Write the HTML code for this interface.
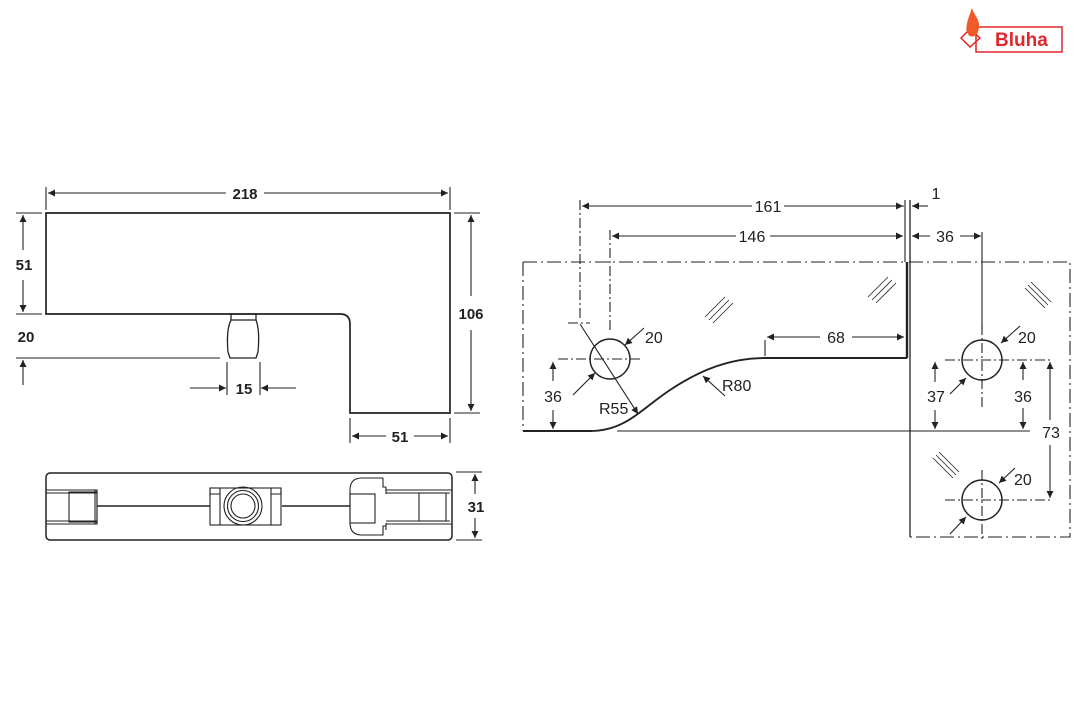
<!DOCTYPE html>
<html><head><meta charset="utf-8"><style>
html,body{margin:0;padding:0;background:#fff}
svg{display:block}
text{font-family:"Liberation Sans",Arial,sans-serif;fill:#222}
</style></head><body>
<svg width="1080" height="720" viewBox="0 0 1080 720" xmlns="http://www.w3.org/2000/svg">
<defs>
<marker id="a" viewBox="0 0 10 10" refX="10" refY="5" markerWidth="13" markerHeight="7" markerUnits="userSpaceOnUse" orient="auto-start-reverse"><path d="M0,0 L10,5 L0,10 z" fill="#222"/></marker>
<marker id="b" viewBox="0 0 10 10" refX="10" refY="5" markerWidth="14" markerHeight="7" markerUnits="userSpaceOnUse" orient="auto-start-reverse"><path d="M0,0 L10,5 L0,10 z" fill="#222"/></marker>
</defs>
<g>
<rect x="976" y="27" width="86" height="25" fill="none" stroke="#e0262b" stroke-width="1.5"/>
<path d="M961,38 L970,29 L980,38 L970,47 Z" fill="none" stroke="#e0262b" stroke-width="1.5"/>
<path d="M970,36 C964,32 966,24 972,8 C974,16 982,20 978,32 C976,37 972,37 970,36 Z" fill="#f05a28"/>
<text x="995" y="46" font-size="19" font-weight="bold" style="fill:#e0262b">Bluha</text>
</g>
<g fill="none" stroke="#222" stroke-width="1.1">
<path d="M46,213 H450 V413 H350 V324 Q350,314 340,314 H46 Z" stroke-width="1.7"/>
<path d="M231,314 H256 V320 H231 Z M231,320 Q226,330 228,352 L230,358 H256 L258,352 Q260,330 256,320" stroke-width="1.3"/>
<line x1="46" y1="187" x2="46" y2="210"/><line x1="450" y1="187" x2="450" y2="210"/>
<line x1="48" y1="193" x2="226" y2="193" marker-start="url(#b)"/><line x1="264" y1="193" x2="448" y2="193" marker-end="url(#b)"/>
<line x1="16" y1="213" x2="42" y2="213"/><line x1="16" y1="314" x2="42" y2="314"/>
<line x1="23" y1="215" x2="23" y2="250" marker-start="url(#a)"/><line x1="23" y1="280" x2="23" y2="312" marker-end="url(#a)"/>
<line x1="16" y1="358" x2="220" y2="358"/><line x1="23" y1="385" x2="23" y2="360" marker-end="url(#a)"/>
<line x1="227" y1="362" x2="227" y2="395"/><line x1="260" y1="362" x2="260" y2="395"/>
<line x1="190" y1="388" x2="226" y2="388" marker-end="url(#a)"/><line x1="296" y1="388" x2="261" y2="388" marker-end="url(#a)"/>
<line x1="454" y1="213" x2="480" y2="213"/><line x1="454" y1="413" x2="480" y2="413"/>
<line x1="471" y1="215" x2="471" y2="296" marker-start="url(#a)"/><line x1="471" y1="330" x2="471" y2="411" marker-end="url(#a)"/>
<line x1="350" y1="418" x2="350" y2="443"/><line x1="450" y1="418" x2="450" y2="443"/>
<line x1="352" y1="436" x2="386" y2="436" marker-start="url(#b)"/><line x1="414" y1="436" x2="448" y2="436" marker-end="url(#b)"/>
<rect x="46" y="473" width="406" height="67" rx="4" stroke-width="1.5"/>
<path d="M46,490 H97 V493 H46 M46,521 H97 V524 H46" />
<rect x="69" y="492" width="28" height="30"/>
<rect x="95" y="490" width="2" height="34"/>
<line x1="97" y1="506" x2="210" y2="506" stroke-width="1.4"/>
<line x1="282" y1="506" x2="350" y2="506" stroke-width="1.4"/>
<rect x="210" y="488" width="71" height="37"/>
<path d="M210,488 V494 H220 V488 M281,488 V494 H271 V488"/>
<line x1="220" y1="494" x2="220" y2="525"/><line x1="271" y1="494" x2="271" y2="525"/>
<circle cx="243" cy="506" r="19"/><circle cx="243" cy="506" r="15.5"/><circle cx="243" cy="506" r="12"/>
<path d="M383,478 H362 Q350,478 350,490 V523 Q350,535 362,535 H383 V526 H386 M383,478 V487 H386"/>
<rect x="350" y="494" width="25" height="29"/>
<path d="M386,487 V494 M386,523 V530"/>
<path d="M386,490 H452 M386,493 H450 M386,521 H450 M386,524 H452"/>
<rect x="419" y="493" width="27" height="28"/>
<line x1="456" y1="472" x2="482" y2="472"/><line x1="456" y1="540" x2="482" y2="540"/>
<line x1="475" y1="474" x2="475" y2="494" marker-start="url(#a)"/><line x1="475" y1="518" x2="475" y2="538" marker-end="url(#a)"/>
<path d="M523,262 H907 M523,262 V431 M909,262 H1070 V537 H909" stroke-dasharray="14,4,2,4"/>
<line x1="907" y1="262" x2="907" y2="358" stroke-width="2.4"/>
<line x1="910" y1="200" x2="910" y2="537" stroke-width="1.3"/>
<line x1="905" y1="200" x2="905" y2="262"/>
<path d="M523,431 H590 C625,431 640,410 670,390 C700,370 730,358 765,358 H907" stroke-width="1.9"/>
<line x1="617" y1="431" x2="1030" y2="431"/>
<line x1="765" y1="340" x2="765" y2="356"/>
<line x1="767" y1="337" x2="820" y2="337" marker-start="url(#a)"/><line x1="852" y1="337" x2="904" y2="337" marker-end="url(#a)"/>
<circle cx="610" cy="359" r="20" stroke-width="1.5"/>
<path d="M580,200 V320 M610,230 V330 M568,323 H590 M558,359 H640" stroke-dasharray="10,3,2,3"/>
<line x1="580" y1="324" x2="638" y2="414" marker-end="url(#a)"/>
<line x1="644" y1="328" x2="625" y2="345" marker-end="url(#a)"/>
<line x1="573" y1="395" x2="595" y2="373" marker-end="url(#a)"/>
<line x1="725" y1="396" x2="703" y2="376" marker-end="url(#a)"/>
<line x1="553" y1="381" x2="553" y2="362" marker-end="url(#a)"/><line x1="553" y1="410" x2="553" y2="429" marker-end="url(#a)"/>
<line x1="582" y1="206" x2="752" y2="206" marker-start="url(#a)"/><line x1="784" y1="206" x2="903" y2="206" marker-end="url(#a)"/>
<line x1="612" y1="236" x2="736" y2="236" marker-start="url(#a)"/><line x1="770" y1="236" x2="903" y2="236" marker-end="url(#a)"/>
<line x1="928" y1="206" x2="912" y2="206" marker-end="url(#a)"/><line x1="885" y1="206" x2="904" y2="206"/>
<line x1="912" y1="236" x2="930" y2="236" marker-start="url(#a)"/><line x1="960" y1="236" x2="981" y2="236" marker-end="url(#a)"/>
<line x1="982" y1="232" x2="982" y2="330"/>
<circle cx="982" cy="360" r="20" stroke-width="1.5"/>
<circle cx="982" cy="500" r="20" stroke-width="1.5"/>
<path d="M982,325 V410 M945,360 H1052 M982,470 V540 M945,500 H1052" stroke-dasharray="10,3,2,3"/>
<line x1="1020" y1="326" x2="1001" y2="343" marker-end="url(#a)"/>
<line x1="950" y1="394" x2="966" y2="378" marker-end="url(#a)"/>
<line x1="1015" y1="468" x2="999" y2="483" marker-end="url(#a)"/>
<line x1="950" y1="534" x2="966" y2="517" marker-end="url(#a)"/>
<line x1="935" y1="382" x2="935" y2="362" marker-end="url(#a)"/><line x1="935" y1="410" x2="935" y2="429" marker-end="url(#a)"/>
<line x1="1023" y1="380" x2="1023" y2="362" marker-end="url(#a)"/><line x1="1023" y1="408" x2="1023" y2="429" marker-end="url(#a)"/>
<line x1="1050" y1="420" x2="1050" y2="362" marker-end="url(#a)"/><line x1="1050" y1="445" x2="1050" y2="498" marker-end="url(#a)"/>
<g stroke-width="0.8">
<path d="M705,317 L725,297 M709,320 L729,300 M713,323 L733,303"/>
<path d="M868,297 L888,277 M872,300 L892,280 M876,303 L896,283"/>
<path d="M1025,288 L1045,308 M1028,285 L1048,305 M1031,282 L1051,302"/>
<path d="M933,458 L953,478 M936,455 L956,475 M939,452 L959,472"/>
</g>
</g>
<g font-size="15" font-weight="bold">
<text x="245" y="199" text-anchor="middle">218</text>
<text x="24" y="270" text-anchor="middle">51</text>
<text x="26" y="342" text-anchor="middle">20</text>
<text x="244" y="394" text-anchor="middle">15</text>
<text x="471" y="319" text-anchor="middle">106</text>
<text x="400" y="442" text-anchor="middle">51</text>
<text x="476" y="512" text-anchor="middle">31</text>
</g>
<g font-size="16">
<text x="768" y="212" text-anchor="middle">161</text>
<text x="752" y="242" text-anchor="middle">146</text>
<text x="936" y="199" text-anchor="middle">1</text>
<text x="945" y="242" text-anchor="middle">36</text>
<text x="836" y="343" text-anchor="middle">68</text>
<text x="645" y="343">20</text>
<text x="553" y="402" text-anchor="middle">36</text>
<text x="599" y="414">R55</text>
<text x="722" y="391">R80</text>
<text x="1018" y="343">20</text>
<text x="936" y="402" text-anchor="middle">37</text>
<text x="1023" y="402" text-anchor="middle">36</text>
<text x="1051" y="438" text-anchor="middle">73</text>
<text x="1014" y="485">20</text>
</g>
</svg>
</body></html>
